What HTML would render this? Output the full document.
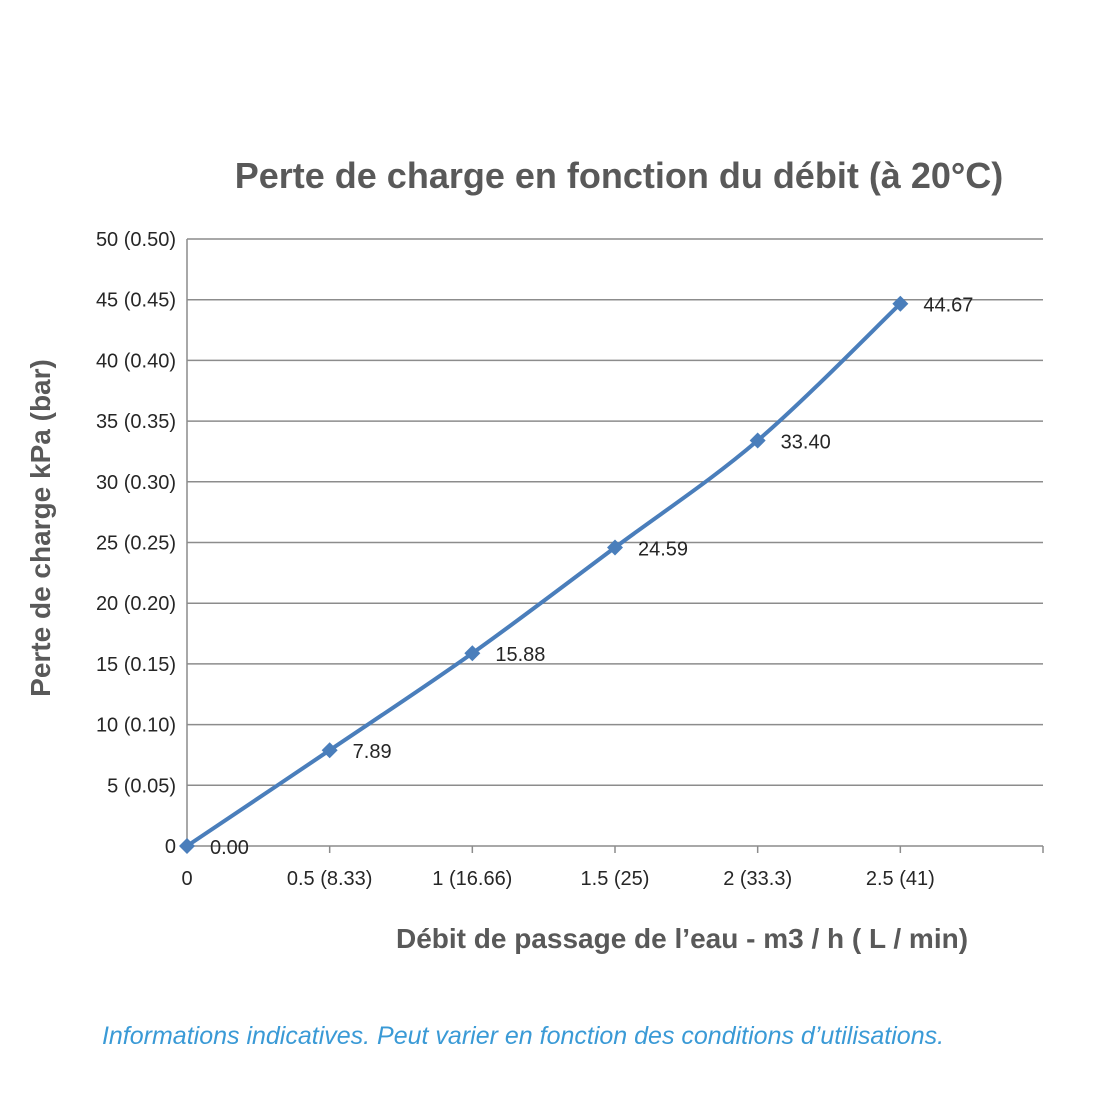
<!DOCTYPE html>
<html><head><meta charset="utf-8"><style>
body{margin:0;background:#fff;}
svg{display:block;font-family:"Liberation Sans",sans-serif;}
</style></head><body>
<svg width="1100" height="1100" viewBox="0 0 1100 1100">
<text x="619" y="188" text-anchor="middle" font-size="36" font-weight="bold" fill="#595959">Perte de charge en fonction du débit (à 20°C)</text>
<g id="grid"></g>
<g id="yt"></g>
<g id="xt"></g>
<g id="series"></g>
<text transform="translate(50,528) rotate(-90)" text-anchor="middle" font-size="28" font-weight="bold" fill="#595959">Perte de charge kPa (bar)</text>
<text x="682" y="948" text-anchor="middle" font-size="28" font-weight="bold" fill="#595959">Débit de passage de l’eau - m3 / h ( L / min)</text>
<text x="523" y="1044" text-anchor="middle" font-size="25" font-style="italic" fill="#3a9ad6">Informations indicatives. Peut varier en fonction des conditions d’utilisations.</text>
</svg>
<script>
const categories=["0","0.5 (8.33)","1 (16.66)","1.5 (25)","2 (33.3)","2.5 (41)"];
const values=[0,7.89,15.88,24.59,33.40,44.67];
const valueLabels=["0.00","7.89","15.88","24.59","33.40","44.67"];
const yTicks=[0,5,10,15,20,25,30,35,40,45,50];
const yTickLabels=["0","5 (0.05)","10 (0.10)","15 (0.15)","20 (0.20)","25 (0.25)","30 (0.30)","35 (0.35)","40 (0.40)","45 (0.45)","50 (0.50)"];
const NS="http://www.w3.org/2000/svg";
const X0=187,X1=1043,Y0=846,Y1=239,NC=6;
const xs=i=>X0+i*(X1-X0)/NC;
const ys=v=>Y0-(v/50)*(Y0-Y1);
function mk(t,a,p){const e=document.createElementNS(NS,t);for(const k in a)e.setAttribute(k,a[k]);p.appendChild(e);return e;}
const grid=document.getElementById('grid'),yt=document.getElementById('yt'),xt=document.getElementById('xt'),ser=document.getElementById('series');
yTicks.forEach((v,i)=>{
 const l=mk('line',{x1:X0,x2:X1,y1:ys(v),y2:ys(v),stroke:'#8c8c8c','stroke-width':1.5},grid);
 
 
 const t=mk('text',{x:176,y:ys(v)+7,'text-anchor':'end','font-size':20,fill:'#262626'},yt);
 t.textContent=yTickLabels[i];
 
 
});
const ya=mk('line',{x1:X0,x2:X0,y1:Y1,y2:Y0,stroke:'#8c8c8c','stroke-width':1.5},grid);


for(let i=0;i<=NC;i++){
 const tk=mk('line',{x1:xs(i),x2:xs(i),y1:Y0,y2:Y0+7,stroke:'#8c8c8c','stroke-width':1.5},grid);
 
 
}
categories.forEach((c,i)=>{
 const t=mk('text',{x:xs(i),y:885,'text-anchor':'middle','font-size':20,fill:'#262626'},xt);
 t.textContent=c;
 
 
});
const pts=values.map((v,i)=>[xs(i),ys(v)]);
let d='M'+pts[0][0]+','+pts[0][1];
for(let i=0;i<pts.length-1;i++){
 const p0=pts[Math.max(0,i-1)],p1=pts[i],p2=pts[i+1],p3=pts[Math.min(pts.length-1,i+2)];
 const c1=[p1[0]+(p2[0]-p0[0])/6,p1[1]+(p2[1]-p0[1])/6],c2=[p2[0]-(p3[0]-p1[0])/6,p2[1]-(p3[1]-p1[1])/6];
 d+=` C${c1[0]},${c1[1]} ${c2[0]},${c2[1]} ${p2[0]},${p2[1]}`;
}
const path=mk('path',{d:d,fill:'none',stroke:'#4a7ebb','stroke-width':4},ser);


pts.forEach((p,i)=>{
 const m=mk('polygon',{points:`${p[0]},${p[1]-8} ${p[0]+8},${p[1]} ${p[0]},${p[1]+8} ${p[0]-8},${p[1]}`,fill:'#4a7ebb'},ser);
 
 
 const t=mk('text',{x:p[0]+23,y:p[1]+8,'font-size':20,fill:'#262626'},ser);
 t.textContent=valueLabels[i];
 
 
});
</script>
</body></html>
